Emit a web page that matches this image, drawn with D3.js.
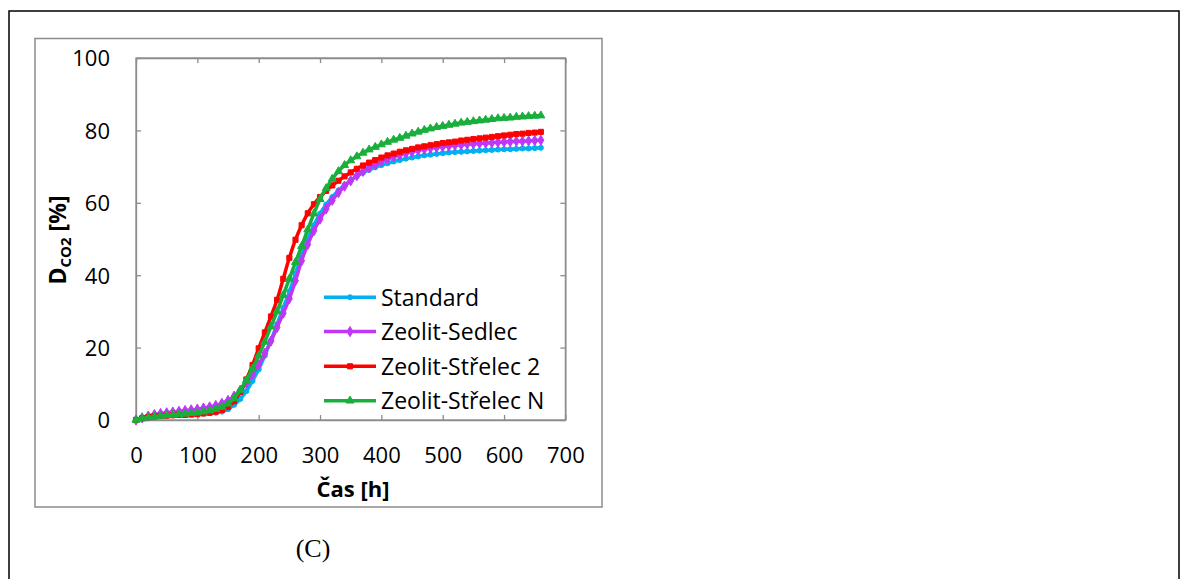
<!DOCTYPE html>
<html>
<head>
<meta charset="utf-8">
<script src="https://cdn.jsdelivr.net/npm/d3@7"></script>
<style>
  body { margin: 0; background: #fff; }
  svg { display: block; font-family: "Open Sans", sans-serif; }
  .axis path, .axis line { stroke: #8c8c8c; stroke-width: 1.3px; }
  .axis text { font-family: "Open Sans", sans-serif; font-size: 22px; fill: #000; }
</style>
</head>
<body>
<svg id="chart"></svg>
<script>
// data
const hours = [0, 10, 20, 30, 40, 50, 60, 70, 80, 90, 100, 110, 120, 130, 140, 150, 160, 170, 180, 190,
  200, 210, 220, 230, 240, 250, 260, 270, 280, 290, 300, 310, 320, 330, 340, 350, 360, 370, 380, 390,
  400, 410, 420, 430, 440, 450, 460, 470, 480, 490, 500, 510, 520, 530, 540, 550, 560, 570, 580, 590,
  600, 610, 620, 630, 640, 650, 660]

const standard = [0, 0.4, 0.7, 0.9, 1.1, 1.2, 1.3, 1.4, 1.5, 1.6, 1.7, 1.8, 1.9, 2.0, 2.3, 3.0, 4.2, 5.8, 8.0, 10.8,
  14.0, 17.8, 22.0, 26.5, 31.0, 35.5, 40.5, 45.5, 50.0, 53.8, 57.0, 59.5, 61.6, 63.4, 64.9, 66.2, 67.3, 68.3, 69.1, 69.8,
  70.4, 70.9, 71.4, 71.8, 72.2, 72.5, 72.8, 73.1, 73.3, 73.5, 73.7, 73.9, 74.0, 74.1, 74.2, 74.3, 74.4, 74.5, 74.6, 74.7,
  74.8, 74.8, 74.9, 75.0, 75.0, 75.1, 75.2]

const sedlec = [0, 0.6, 1.1, 1.5, 1.8, 2.0, 2.2, 2.4, 2.6, 2.8, 3.0, 3.3, 3.6, 4.0, 4.6, 5.4, 6.6, 8.2, 10.2, 12.6,
  15.3, 18.4, 21.8, 25.6, 29.5, 33.5, 38.5, 44.0, 48.5, 52.3, 55.5, 58.3, 60.7, 62.8, 64.6, 66.1, 67.5, 68.7, 69.7, 70.6,
  71.4, 72.1, 72.7, 73.2, 73.7, 74.1, 74.5, 74.8, 75.1, 75.3, 75.5, 75.7, 75.9, 76.0, 76.2, 76.3, 76.4, 76.5, 76.6, 76.7,
  76.8, 76.9, 77.0, 77.0, 77.1, 77.2, 77.3]

const strelec2 = [0, 0.5, 0.8, 1.0, 1.1, 1.2, 1.3, 1.4, 1.4, 1.5, 1.6, 1.8, 2.0, 2.3, 2.8, 3.6, 5.2, 7.8, 11.2, 15.2,
  19.8, 24.2, 28.6, 33.2, 39.0, 44.8, 49.8, 53.8, 57.1, 59.6, 61.6, 63.3, 64.8, 66.1, 67.3, 68.4, 69.4, 70.3, 71.1, 71.8,
  72.5, 73.1, 73.6, 74.1, 74.5, 74.9, 75.3, 75.6, 75.9, 76.2, 76.5, 76.7, 76.9, 77.2, 77.4, 77.6, 77.8, 78.0, 78.2, 78.4,
  78.6, 78.8, 79.0, 79.1, 79.3, 79.4, 79.6]

const strelecN = [0, 0.4, 0.7, 0.9, 1.1, 1.3, 1.4, 1.6, 1.7, 1.9, 2.0, 2.3, 2.6, 3.0, 3.6, 4.5, 6.0, 8.3, 11.0, 14.2,
  17.8, 21.6, 25.8, 30.0, 34.5, 39.0, 43.6, 48.0, 52.6, 57.0, 61.0, 64.0, 66.6, 68.7, 70.4, 71.7, 72.8, 73.8, 74.7, 75.4,
  76.1, 76.8, 77.4, 77.9, 78.5, 79.1, 79.6, 80.1, 80.5, 80.9, 81.2, 81.5, 81.8, 82.1, 82.3, 82.5, 82.7, 82.9, 83.1, 83.3,
  83.4, 83.5, 83.7, 83.8, 83.9, 84.0, 84.1]

const seriesNames = ['Standard', 'Zeolit-Sedlec', 'Zeolit-Střelec 2', 'Zeolit-Střelec N']
const seriesValues = [standard, sedlec, strelec2, strelecN]
const xTicks = [0, 100, 200, 300, 400, 500, 600, 700]
const yTicks = [0, 20, 40, 60, 80, 100]

// styles
const colors = ['#00b0f0', '#bf37f6', '#ff0000', '#1aaf3c']
const symbols = [d3.symbolCircle, d3.symbolDiamond, d3.symbolSquare, d3.symbolTriangle]
const symbolSizes = [20, 30, 26, 28]

// dimensions
const W = 1187
const H = 579
const plot = { left: 136, top: 58, right: 565.4, bottom: 420 }
const tickLen = 5

const $svg = d3.select('#chart').attr('width', W).attr('height', H)

// outer black frame (bottom runs off page)
$svg.append('rect')
  .attr('x', 9).attr('y', 11)
  .attr('width', 1170).attr('height', 600)
  .attr('fill', 'none').attr('stroke', '#000').attr('stroke-width', 1.5)

// chart area frame
$svg.append('rect')
  .attr('x', 35).attr('y', 38.5)
  .attr('width', 567).attr('height', 468.5)
  .attr('fill', '#fff').attr('stroke', '#8c8c8c').attr('stroke-width', 1.5)

const scaleX = d3.scaleLinear().domain([0, 700]).range([plot.left, plot.right])
const scaleY = d3.scaleLinear().domain([0, 100]).range([plot.bottom, plot.top])

// axes, ticks inside on all sides
const gx = $svg.append('g').attr('class', 'axis')
  .attr('transform', `translate(0, ${plot.bottom})`)
  .call(d3.axisBottom(scaleX).tickValues(xTicks).tickSize(-tickLen).tickSizeOuter(0).tickPadding(0))
gx.selectAll('text').attr('y', 43).attr('dy', 0)

$svg.append('g').attr('class', 'axis')
  .attr('transform', `translate(0, ${plot.top})`)
  .call(d3.axisTop(scaleX).tickValues(xTicks).tickSize(-tickLen).tickSizeOuter(0).tickFormat(''))

const gy = $svg.append('g').attr('class', 'axis')
  .attr('transform', `translate(${plot.left}, 0)`)
  .call(d3.axisLeft(scaleY).tickValues(yTicks).tickSize(-tickLen).tickSizeOuter(0).tickPadding(26))
gy.selectAll('text').attr('dy', '0.36em')

$svg.append('g').attr('class', 'axis')
  .attr('transform', `translate(${plot.right}, 0)`)
  .call(d3.axisRight(scaleY).tickValues(yTicks).tickSize(-tickLen).tickSizeOuter(0).tickFormat(''))

// plot border
$svg.append('rect')
  .attr('x', plot.left).attr('y', plot.top)
  .attr('width', plot.right - plot.left).attr('height', plot.bottom - plot.top)
  .attr('fill', 'none').attr('stroke', '#8c8c8c').attr('stroke-width', 1.3)

// series
const line = d3.line()
  .x((d, i) => scaleX(hours[i]))
  .y(d => scaleY(d))
  .curve(d3.curveMonotoneX)

const $series = $svg.append('g')
seriesValues.forEach((vals, s) => {
  const g = $series.append('g')
  g.append('path')
    .attr('d', line(vals))
    .attr('fill', 'none')
    .attr('stroke', colors[s])
    .attr('stroke-width', 3.5)
  g.selectAll('path.mark')
    .data(vals)
    .enter()
    .append('path')
    .attr('class', 'mark')
    .attr('d', d3.symbol().type(symbols[s]).size(symbolSizes[s]))
    .attr('transform', (d, i) => `translate(${scaleX(hours[i])}, ${scaleY(d)})`)
    .attr('fill', colors[s])
    .attr('stroke', colors[s])
    .attr('stroke-width', 1)
})

// legend
const legendRows = [297.3, 331.6, 366.3, 400.7]
const $legend = $svg.append('g')
seriesNames.forEach((name, s) => {
  const y = legendRows[s]
  $legend.append('line')
    .attr('x1', 324).attr('x2', 376)
    .attr('y1', y).attr('y2', y)
    .attr('stroke', colors[s]).attr('stroke-width', 3.5)
  $legend.append('path')
    .attr('d', d3.symbol().type(symbols[s]).size(symbolSizes[s]))
    .attr('transform', `translate(350, ${y})`)
    .attr('fill', colors[s]).attr('stroke', colors[s])
  $legend.append('text')
    .attr('x', 381).attr('y', y)
    .attr('dy', '0.36em')
    .style('font-size', '23px')
    .text(name)
})

// axis titles
$svg.append('text')
  .attr('x', 353).attr('y', 497)
  .attr('text-anchor', 'middle')
  .style('font-size', '22px').style('font-weight', 700)
  .text('Čas [h]')

const yTitle = $svg.append('text')
  .attr('transform', 'translate(66, 240) rotate(-90)')
  .attr('text-anchor', 'middle')
  .style('font-size', '23px').style('font-weight', 700)
yTitle.append('tspan').text('D')
yTitle.append('tspan').style('font-size', '15px').attr('dy', 5).text('CO2')
yTitle.append('tspan').attr('dy', -5).text(' [%]')

// panel label
$svg.append('text')
  .attr('x', 313).attr('y', 557)
  .attr('text-anchor', 'middle')
  .style('font-family', '"Liberation Serif", "Times New Roman", serif')
  .style('font-size', '26px')
  .text('(C)')
</script>
</body>
</html>
